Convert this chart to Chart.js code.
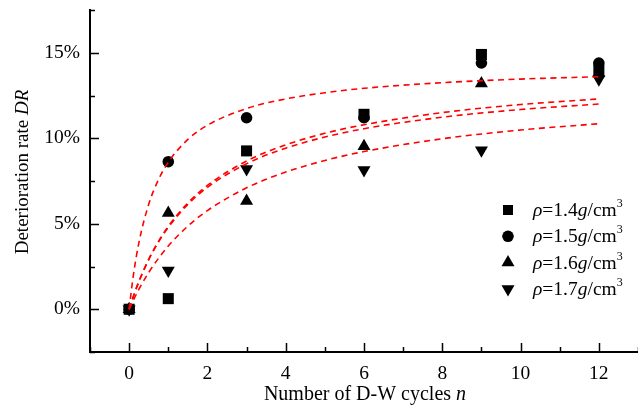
<!DOCTYPE html>
<html>
<head>
<meta charset="utf-8">
<script src="https://cdn.jsdelivr.net/npm/chart.js@4.4.1/dist/chart.umd.min.js"></script>
<style>
  html, body { margin: 0; padding: 0; background: #fff; }
  #wrap { width: 638px; height: 405px; }
</style>
</head>
<body>
<div id="wrap"><canvas id="chart"></canvas></div>
<script>
// measured points: number of D-W cycles vs deterioration rate (%)
const cycles = [0, 1, 3, 6, 9, 12];
const dr14 = [0, 0.62, 9.26, 11.4, 14.9, 14.0];
const dr15 = [0, 8.63, 11.2, 11.2, 14.4, 14.4];
const dr16 = [0, 5.63, 6.33, 9.53, 13.2, 13.8];
const dr17 = [0, 2.27, 8.2, 8.15, 9.3, 13.45];

// fitted curves (red dashed)
const fitN   = [0, 0.1, 0.25, 0.5, 0.75, 1, 1.5, 2, 3, 4, 5, 6, 8, 10, 12];
const fit15  = [0, 1.86, 3.90, 6.14, 7.58, 8.60, 9.93, 10.76, 11.74, 12.30, 12.66, 12.92, 13.25, 13.46, 13.60];
const fit14  = [0, 0.70, 1.63, 2.92, 3.97, 4.85, 6.22, 7.24, 8.67, 9.61, 10.29, 10.79, 11.50, 11.97, 12.30];
const fit16  = [0, 0.70, 1.62, 2.90, 3.93, 4.79, 6.13, 7.13, 8.51, 9.42, 10.07, 10.56, 11.23, 11.68, 12.00];
const fit17  = [0, 0.49, 1.17, 2.15, 2.98, 3.70, 4.86, 5.77, 7.10, 8.02, 8.70, 9.22, 9.97, 10.48, 10.85];

const densities = ["1.4", "1.5", "1.6", "1.7"];
const xTicks = [-1, 0, 1, 2, 3, 4, 5, 6, 7, 8, 9, 10, 11, 12, 13];
const xLabelTicks = [0, 2, 4, 6, 8, 10, 12];
const yTicks = [-2.5, 0, 2.5, 5, 7.5, 10, 12.5, 15, 17.5];
const yLabelTicks = [0, 5, 10, 15];

const SERIF = '"Liberation Serif", "Times New Roman", serif';

const pts = (xs, ys) => xs.map((x, i) => ({ x, y: ys[i] }));

function markerSet(label, data, style, radius, rotation) {
  return {
    label,
    data: pts(cycles, data),
    showLine: false,
    pointStyle: style,
    pointRadius: radius,
    pointHoverRadius: radius,
    rotation: rotation || 0,
    pointBackgroundColor: "#000",
    pointBorderColor: "#000",
    pointBorderWidth: 0,
    order: 2,
  };
}

function fitSet(data) {
  return {
    data: pts(fitN, data),
    showLine: true,
    borderColor: "#ff0000",
    borderWidth: 1.6,
    borderDash: [6, 4.5],
    pointRadius: 0,
    cubicInterpolationMode: "monotone",
    fill: false,
    order: 1,
  };
}

// inward tick marks, axis titles with italics, and the legend
const decorPlugin = {
  id: "decor",
  afterDraw(chart) {
    const { ctx, chartArea: a, scales: { x, y } } = chart;
    ctx.save();
    ctx.strokeStyle = "#000";
    ctx.lineWidth = 1.5;
    ctx.beginPath();
    yTicks.forEach((v) => {
      const py = Math.round(y.getPixelForValue(v)) + 0.5;
      const len = yLabelTicks.includes(v) ? 9 : 5;
      ctx.moveTo(a.left, py);
      ctx.lineTo(a.left + len, py);
    });
    xTicks.forEach((v) => {
      const px = Math.round(x.getPixelForValue(v)) + 0.5;
      const len = xLabelTicks.includes(v) ? 9 : 5;
      ctx.moveTo(px, a.bottom);
      ctx.lineTo(px, a.bottom - len);
    });
    ctx.stroke();

    ctx.fillStyle = "#000";
    ctx.textBaseline = "alphabetic";

    // x title
    const xParts = [{ t: "Number of D-W cycles " }, { t: "n", it: true }];
    drawRich(ctx, xParts, 20, 365, 400, true);

    // y title
    ctx.save();
    ctx.translate(28, 172);
    ctx.rotate(-Math.PI / 2);
    const yParts = [{ t: "Deterioration rate " }, { t: "DR", it: true }];
    drawRich(ctx, yParts, 19, 0, 0, true);
    ctx.restore();

    // legend
    const styles = ["rect", "circle", "triangle", "triangleDown"];
    densities.forEach((d, i) => {
      const cy = 210 + i * 26.3;
      drawSymbol(ctx, styles[i], 508, cy);
      const parts = [
        { t: "\u03c1", it: true }, { t: "=" + d }, { t: "g", it: true },
        { t: "/cm" }, { t: "3", size: 12, dy: -9 },
      ];
      drawRich(ctx, parts, 19.5, 533, cy + 6, false);
    });
    ctx.restore();
  },
};

function fontOf(p, size) {
  return (p.it ? "italic " : "") + (p.size || size) + "px " + SERIF;
}

function drawRich(ctx, parts, size, x, y, center) {
  let w = 0;
  parts.forEach((p) => { ctx.font = fontOf(p, size); w += ctx.measureText(p.t).width; });
  let cx = center ? x - w / 2 : x;
  ctx.textAlign = "left";
  parts.forEach((p) => {
    ctx.font = fontOf(p, size);
    ctx.fillText(p.t, cx, y + (p.dy || 0));
    cx += ctx.measureText(p.t).width;
  });
}

function drawSymbol(ctx, style, x, y) {
  ctx.beginPath();
  if (style === "rect") {
    ctx.rect(x - 5, y - 5, 10, 10);
  } else if (style === "circle") {
    ctx.arc(x, y, 5.8, 0, Math.PI * 2);
  } else if (style === "triangle") {
    ctx.moveTo(x, y - 7.5);
    ctx.lineTo(x + 6.5, y + 3.75);
    ctx.lineTo(x - 6.5, y + 3.75);
    ctx.closePath();
  } else {
    ctx.moveTo(x, y + 7.5);
    ctx.lineTo(x + 6.5, y - 3.75);
    ctx.lineTo(x - 6.5, y - 3.75);
    ctx.closePath();
  }
  ctx.fill();
}

new Chart(document.getElementById("chart"), {
  type: "scatter",
  data: {
    datasets: [
      markerSet("1.4", dr14, "rect", 7.8),
      markerSet("1.5", dr15, "circle", 5.8),
      markerSet("1.6", dr16, "triangle", 7.5),
      markerSet("1.7", dr17, "triangle", 7.5, 180),
      fitSet(fit15),
      fitSet(fit14),
      fitSet(fit16),
      fitSet(fit17),
    ],
  },
  options: {
    responsive: true,
    maintainAspectRatio: false,
    animation: false,
    events: [],
    layout: { autoPadding: false, padding: { top: 10, right: 0, left: 0, bottom: 0 } },
    plugins: { legend: { display: false }, tooltip: { enabled: false } },
    scales: {
      x: {
        type: "linear",
        min: -1,
        max: 13,
        afterFit: (s) => { s.height = 53; s.paddingLeft = 0; s.paddingRight = 0; },
        afterBuildTicks: (s) => { s.ticks = xLabelTicks.map((v) => ({ value: v })); },
        grid: { display: false, drawTicks: false },
        border: { display: true, color: "#000", width: 2 },
        ticks: { color: "#000", padding: 10, font: { family: SERIF, size: 19.5 }, maxRotation: 0 },
      },
      y: {
        type: "linear",
        min: -2.5,
        max: 17.5,
        afterFit: (s) => { s.width = 90; s.paddingTop = 0; s.paddingBottom = 0; },
        afterBuildTicks: (s) => { s.ticks = yLabelTicks.map((v) => ({ value: v })); },
        grid: { display: false, drawTicks: false },
        border: { display: true, color: "#000", width: 2 },
        ticks: {
          color: "#000",
          padding: 10,
          font: { family: SERIF, size: 19.5 },
          callback: (v) => v + "%",
        },
      },
    },
  },
  plugins: [decorPlugin],
});
</script>
</body>
</html>
